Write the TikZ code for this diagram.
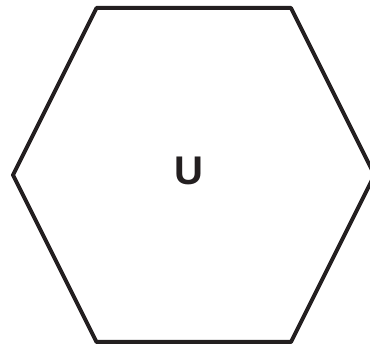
\documentclass[tikz,border=0pt]{standalone}
\usepackage{fontspec}
\setmainfont{Liberation Sans}
\definecolor{ink}{HTML}{231F20}
\begin{document}
\begin{tikzpicture}[x=1pt,y=-1pt,
  hexline/.style={draw=ink,line width=4pt,line join=round},
  lbl/.style={text=ink,font=\bfseries\fontsize{40}{40}\selectfont,inner sep=0pt}]
\useasboundingbox (0,0) rectangle (370,347);
\draw[hexline] (96.5,8) -- (291,8) -- (374.5,175) -- (291,342) -- (96.5,342) -- (13,175) -- cycle;
\node[lbl] (u) at (188.5,171) {U};
\end{tikzpicture}
\end{document}
